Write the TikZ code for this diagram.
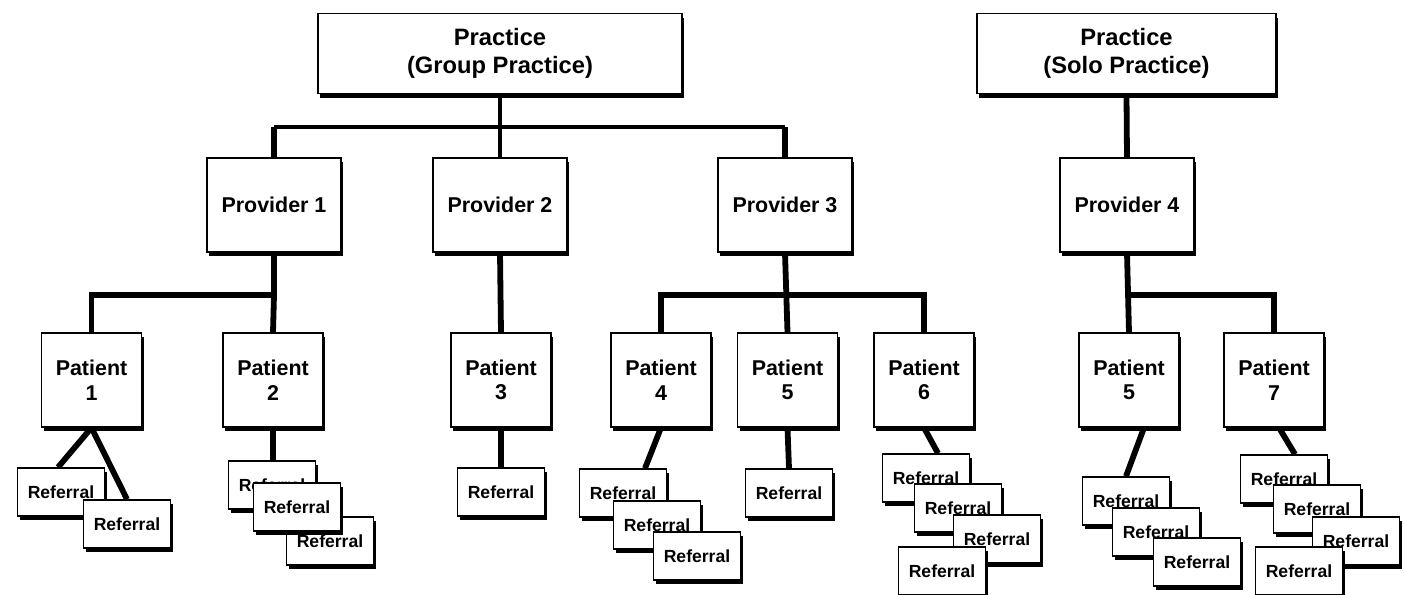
\documentclass[tikz,border=0pt]{standalone}
\usepackage{fontspec}
\setmainfont{Liberation Sans}
\usetikzlibrary{backgrounds,calc,shadows}
\tikzset{
    org chart/.style = {line join=miter},
    box/.style       = {draw, line width=0.8pt, fill=white, inner sep=1pt,
                        align=center, font=\bfseries\fontsize{12.2}{14}\selectfont,
                        drop shadow={shadow xshift=1.4pt, shadow yshift=-2.4pt,
                                     opacity=1, fill=black}},
    practice/.style  = {box, minimum height=1.6cm,
                        font=\bfseries\fontsize{13.5}{16}\selectfont},
    provider/.style  = {box, minimum width=2.68cm, minimum height=1.88cm},
    patient/.style   = {box, minimum width=2.0cm, minimum height=1.88cm},
    referral/.style  = {box, minimum width=1.74cm, minimum height=0.96cm,
                        font=\bfseries\fontsize{10}{12}\selectfont},
    trunk/.style     = {line width=3.3pt},
    bar/.style       = {line width=2.2pt}
}
\def\practicerow{-1.07}
\def\providerrow{-4.10}
\def\patientrow{-7.60}

\begin{document}
\begin{tikzpicture}[org chart]
\useasboundingbox (0,0) rectangle (28.1,-11.88);
\coordinate (topbar) at (0,-2.54);
\coordinate (lowbar) at (0,-5.9);

% practices and their providers
\node[practice, minimum width=7.28cm] (group) at (10.0,\practicerow)
  {Practice\\(Group Practice)};
\node[practice, minimum width=5.98cm] (solo) at (22.53,\practicerow)
  {Practice\\(Solo Practice)};
\node[provider] (prov1) at (5.48,\providerrow) {Provider 1};
\node[provider] (prov2) at (10.0,\providerrow) {Provider 2};
\node[provider] (prov3) at (15.7,\providerrow) {Provider 3};
\node[provider] (prov4) at (22.54,\providerrow) {Provider 4};

% patients; patient 5 is seen in both practices
\node[patient] (pat1) at (1.83,\patientrow) {Patient\\1};
\node[patient] (pat2) at (5.46,\patientrow) {Patient\\2};
\node[patient] (pat3) at (10.02,\patientrow) {Patient\\3};
\node[patient] (pat4) at (13.22,\patientrow) {Patient\\4};
\node[patient] (pat5) at (15.75,\patientrow) {Patient\\5};
\node[patient] (pat6) at (18.48,\patientrow) {Patient\\6};
\node[patient] (pat5s) at (22.58,\patientrow) {Patient\\5};
\node[patient] (pat7) at (25.48,\patientrow) {Patient\\7};

% referral stacks, back to front
\node[referral] (ref1a) at (1.22,-9.84) {Referral};
\node[referral] (ref1b) at (2.54,-10.48) {Referral};
\node[referral] (ref2a) at (5.44,-9.70) {Referral};
\node[referral] (ref2c) at (6.60,-10.82) {Referral};
\node[referral] (ref2b) at (5.94,-10.14) {Referral};
\node[referral] (ref3a) at (10.02,-9.84) {Referral};
\node[referral] (ref4a) at (12.46,-9.86) {Referral};
\node[referral] (ref4b) at (13.14,-10.50) {Referral};
\node[referral] (ref4c) at (13.94,-11.12) {Referral};
\node[referral] (ref5a) at (15.78,-9.86) {Referral};
\node[referral] (ref6a) at (18.52,-9.56) {Referral};
\node[referral] (ref6b) at (19.16,-10.16) {Referral};
\node[referral] (ref6c) at (19.94,-10.78) {Referral};
\node[referral] (ref6d) at (18.84,-11.42) {Referral};
\node[referral] (ref5sa) at (22.52,-10.02) {Referral};
\node[referral] (ref5sb) at (23.12,-10.64) {Referral};
\node[referral] (ref5sc) at (23.94,-11.24) {Referral};
\node[referral] (ref7a) at (25.68,-9.58) {Referral};
\node[referral] (ref7b) at (26.34,-10.18) {Referral};
\node[referral] (ref7c) at (27.12,-10.82) {Referral};
\node[referral] (ref7d) at (25.98,-11.42) {Referral};

\begin{scope}[on background layer]
% practice to providers
\draw[bar] (prov1.north |- topbar) -- (prov3.north |- topbar);
\draw[bar, line width=2.4pt] (group.south) -- (prov2.north);
\draw[trunk] (prov1.north) -- (prov1.north |- topbar);
\draw[trunk] (prov3.north) -- (prov3.north |- topbar);
\draw[trunk] (solo.south) -- (prov4.north);
% providers to patients
\draw[trunk] (prov1.south) -- (prov1.south |- lowbar) -| (pat1.north);
\draw[trunk] (prov1.south |- lowbar) -- (pat2.north);
\draw[trunk] (prov2.south) -- (pat3.north);
\draw[trunk] (prov3.south) -- (pat5.north);
\draw[trunk] (pat4.north) |- (pat6.north |- lowbar) -- (pat6.north);
\draw[trunk] (prov4.south) -- (pat5s.north);
\draw[trunk] (prov4.south |- lowbar) -| (pat7.north);
% patients to referrals
\draw[trunk] (pat1.south) -- ([xshift=-0.6mm]ref1a.north);
\draw[trunk] (pat1.south) -- (ref1b.north);
\draw[trunk] (pat2.south) -- (pat2.south |- ref2a.north);
\draw[trunk] (pat3.south) -- (ref3a.north);
\draw[trunk] (pat4.south) -- ([xshift=4.4mm]ref4a.north);
\draw[trunk] (pat5.south) -- (ref5a.north);
\draw[trunk] (pat6.south) -- ([xshift=2.4mm]ref6a.north);
\draw[trunk] ([xshift=3mm]pat5s.south) -- (ref5sa.north);
\draw[trunk] ([xshift=1mm]pat7.south) -- ([xshift=2.2mm]ref7a.north);
\end{scope}

\end{tikzpicture}
\end{document}
